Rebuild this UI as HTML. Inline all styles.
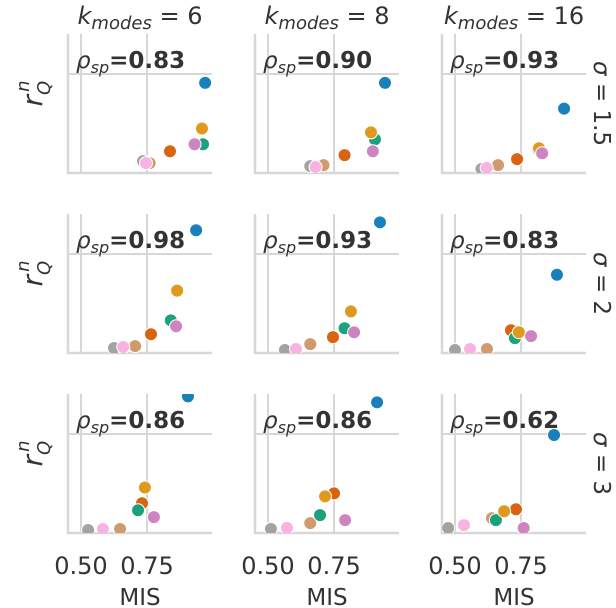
<!DOCTYPE html>
<html><head><meta charset="utf-8"><style>
body{margin:0;background:#fff}
svg{display:block;font-family:"DejaVu Sans","Liberation Sans",sans-serif}
</style></head><body>
<svg id="chart" width="616" height="608" viewBox="0 0 616 608" xmlns="http://www.w3.org/2000/svg"></svg>
<script>
const colTitles = ["6", "8", "16"];
const rowTitles = ["1.5", "2", "3"];
const rhoValues = [["0.83","0.90","0.93"],["0.98","0.93","0.83"],["0.86","0.86","0.62"]];
const seriesColors = ["#1a80bb","#e0991d","#1ba27c","#d9640f","#cf84c2","#cf9a6e","#f9b3e3","#a3a3a3"];
const xTicks = [0.50, 0.75];
const yGrid = [1.0];
// per panel [row][col]: MIS values and r values, ordered: blue, yellow, green, darkorange, purple, tan, pink, gray
const misValues = [
 [[0.97,0.958,0.962,0.837,0.93,0.76,0.746,0.735],[0.943,0.89,0.905,0.79,0.897,0.71,0.68,0.66],[0.913,0.818,0.815,0.735,0.83,0.663,0.62,0.60]],
 [[0.936,0.864,0.84,0.765,0.86,0.705,0.66,0.625],[0.924,0.814,0.79,0.746,0.826,0.66,0.606,0.564],[0.886,0.742,0.727,0.712,0.788,0.621,0.557,0.50]],
 [[0.905,0.742,0.716,0.731,0.776,0.648,0.583,0.527],[0.913,0.716,0.697,0.75,0.792,0.66,0.572,0.511],[0.875,0.686,0.655,0.731,0.76,0.64,0.534,0.474]]
];
const rValues = [
 [[0.91,0.45,0.29,0.22,0.29,0.10,0.10,0.12],[0.91,0.41,0.34,0.18,0.22,0.08,0.06,0.07],[0.65,0.25,0.24,0.14,0.20,0.08,0.05,0.04]],
 [[1.24,0.63,0.33,0.19,0.27,0.07,0.06,0.05],[1.32,0.42,0.25,0.16,0.21,0.09,0.04,0.03],[0.79,0.21,0.15,0.23,0.17,0.04,0.04,0.03]],
 [[1.38,0.46,0.23,0.30,0.16,0.04,0.04,0.03],[1.32,0.37,0.18,0.40,0.13,0.10,0.05,0.04],[0.99,0.22,0.13,0.24,0.05,0.15,0.08,0.05]]
];
const drawOrder = [7,5,6,3,2,1,4,0];
const NS="http://www.w3.org/2000/svg";
const svg=document.getElementById('chart');
function mk(tag,attrs,parent){const e=document.createElementNS(NS,tag);for(const k in attrs)e.setAttribute(k,attrs[k]);(parent||svg).appendChild(e);return e;}
const colLeft=[68,255,442], panelW=144, rowTop=[34,214,394], panelH=139;
const xMin=0.4508, xMax=0.996, yMin=0, yMax=1.404;
function xs(c,v){return colLeft[c]+(v-xMin)/(xMax-xMin)*panelW;}
function ys(r,v){return rowTop[r]+panelH-(v-yMin)/(yMax-yMin)*panelH;}
const grid="#d7d7d7";
for(let r=0;r<3;r++){for(let c=0;c<3;c++){
  const g=mk('g',{});
  
  
  const clipId='clip'+r+c;
  const cp=mk('clipPath',{id:clipId},g);mk('rect',{x:colLeft[c],y:rowTop[r],width:panelW,height:panelH},cp);
  xTicks.forEach(t=>{const l=mk('line',{x1:xs(c,t),x2:xs(c,t),y1:rowTop[r],y2:rowTop[r]+panelH,stroke:grid,'stroke-width':2},g);
    });
  yGrid.forEach(t=>{const l=mk('line',{x1:colLeft[c],x2:colLeft[c]+panelW,y1:ys(r,t),y2:ys(r,t),stroke:grid,'stroke-width':2},g);
    });
  const sp=mk('path',{d:`M${colLeft[c]},${rowTop[r]}V${rowTop[r]+panelH}H${colLeft[c]+panelW}`,fill:'none',stroke:grid,'stroke-width':2.5},g);
  
  const rt=mk('text',{x:colLeft[c]+8,y:rowTop[r]+34,'font-size':23,fill:'#333'},g);
  
  rt.innerHTML='<tspan font-style="italic">ρ</tspan><tspan font-style="italic" font-size="16" dy="5">sp</tspan><tspan dy="-5" font-weight="bold">='+rhoValues[r][c]+'</tspan>';
  const pg=mk('g',{'clip-path':'url(#'+clipId+')'},g);
  drawOrder.forEach(i=>{const p=mk('circle',{cx:xs(c,misValues[r][c][i]),cy:ys(r,rValues[r][c][i]),r:6.5,fill:seriesColors[i],stroke:'#fff','stroke-width':1},pg);
    });
}}
for(let c=0;c<3;c++){
  const cx=colLeft[c]+panelW/2;
  const t=mk('text',{x:cx,y:24,'text-anchor':'middle','font-size':24,fill:'#333'});
  
  t.innerHTML='<tspan font-style="italic">k</tspan><tspan font-style="italic" font-size="18" dy="5">modes</tspan><tspan dy="-5"> = '+colTitles[c]+'</tspan>';
  xTicks.forEach(v=>{const tl=mk('text',{x:xs(c,v),y:574,'text-anchor':'middle','font-size':24,fill:'#333'});
    tl.textContent=v.toFixed(2);});
  const xl=mk('text',{x:cx,y:605,'text-anchor':'middle','font-size':23,fill:'#333'});
  xl.textContent='MIS';
}
for(let r=0;r<3;r++){
  const cy=rowTop[r]+panelH/2;
  const rl=mk('text',{x:0,y:0,transform:`translate(594,${cy}) rotate(90)`,'text-anchor':'middle','font-size':23,fill:'#333'});
  
  rl.innerHTML='<tspan font-style="italic">σ</tspan> = '+rowTitles[r];
  const yl=mk('text',{x:0,y:0,transform:`translate(42,${cy-10}) rotate(-90)`,'text-anchor':'middle','font-size':28,fill:'#333'});
  
  yl.innerHTML='<tspan font-style="italic">r</tspan><tspan font-style="italic" font-size="18" dy="8">Q</tspan><tspan font-style="italic" font-size="18" dx="-11" dy="-21">n</tspan>';
}
</script>
</body></html>
